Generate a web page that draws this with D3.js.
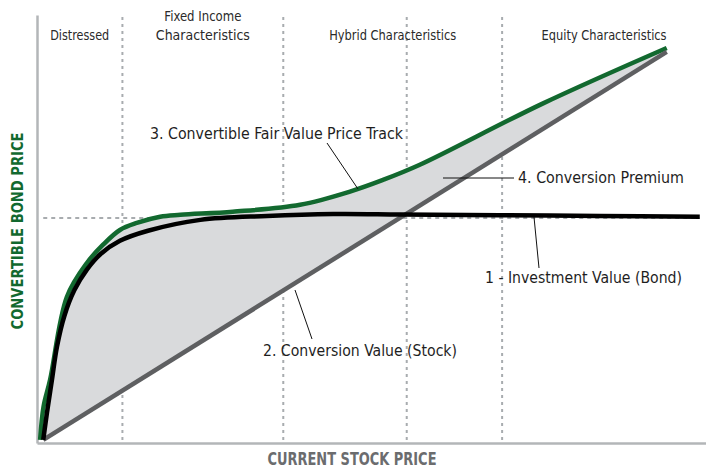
<!DOCTYPE html>
<html>
<head>
<meta charset="utf-8">
<script src="https://cdn.jsdelivr.net/npm/d3@7"></script>
<style>
  body { margin: 0; background: #fff; }
  text { font-family: "DejaVu Sans Condensed", "Liberation Sans Narrow", sans-serif; }
</style>
</head>
<body>
<svg></svg>
<script>
const width = 706;
const height = 470;

// datos (stock price vs bond price, arbitrary units 0-100)
const stockX = [0, 100];
const stockY = [0, 100];

const bondX = [0, 0.6, 1.4, 2.2, 3.4, 5.0, 7.0, 9.2, 12.3, 16.8, 25.2, 35.9, 46.5, 57.2, 73.2, 89.3, 105.3];
const bondY = [0, 7.0, 15.5, 24.0, 32.0, 38.6, 43.9, 47.9, 51.3, 53.9, 56.7, 57.7, 58.2, 58.1, 57.9, 57.7, 57.5];

const fairX = [-0.5, 0.05, 1.1, 3.8, 7.0, 9.6, 12.3, 15.0, 18.75, 22.0, 30.4, 41.2, 49.2, 54.5, 60.4, 80, 100];
const fairY = [0, 8.6, 15.5, 36.9, 45.6, 50.3, 54.1, 55.9, 57.5, 58.0, 58.8, 60.6, 64.0, 67.0, 70.9, 86.6, 101];

// zonas
const zoneBreaks = [12.7, 38.5, 73.6];
const crossX = 58.3;
const parLevel = 57.2;
const zoneLabels = [["Distressed"], ["Fixed Income", "Characteristics"], ["Hybrid Characteristics"], ["Equity Characteristics"]];
const zoneWidths = [[59], [77, 94], [127], [125]];

const svg = d3.select("svg").attr("width", width).attr("height", height);

const x = d3.scaleLinear().domain([-1, 106.3]).range([37, 706]);
const y = d3.scaleLinear().domain([-0.8, 109.5]).range([443, 15]);

const green = "#12692f";
const gridCol = "#a8acaf";

// rejilla
const vLines = zoneBreaks.concat([crossX]);
svg.append("g").selectAll("line").data(vLines).join("line")
  .attr("x1", d => x(d)).attr("x2", d => x(d))
  .attr("y1", y(109)).attr("y2", y(0))
  .attr("stroke", gridCol).attr("stroke-width", 2).attr("stroke-dasharray", "3,4");

svg.append("line")
  .attr("x1", x(0)).attr("x2", x(105.3))
  .attr("y1", y(parLevel)).attr("y2", y(parLevel))
  .attr("stroke", gridCol).attr("stroke-width", 2).attr("stroke-dasharray", "4,4");

// ejes
const axisX = svg.append("g").attr("transform", `translate(0,${y(-0.8)})`)
  .call(d3.axisBottom(x).tickValues([]).tickSizeOuter(0));
const axisY = svg.append("g").attr("transform", `translate(${x(-1)},0)`)
  .call(d3.axisLeft(y).tickValues([]).tickSizeOuter(0));
[axisX, axisY].forEach(a => a.select(".domain").attr("stroke", "#b3b6b8").attr("stroke-width", 2.5));

const fairPts = fairX.map((d, i) => [d, fairY[i]]);
const bondPts = bondX.map((d, i) => [d, bondY[i]]);
const stockPts = stockX.map((d, i) => [d, stockY[i]]);

const line = d3.line().x(d => x(d[0])).y(d => y(d[1])).curve(d3.curveCatmullRom.alpha(0.5));

// relleno prima
const fillPath = line(fairPts) + "L" + stockPts.slice().reverse().map(d => x(d[0]) + "," + y(d[1])).join("L") + "Z";
svg.append("path").attr("d", fillPath).attr("fill", "#d9dadc");

svg.append("path").attr("d", line(fairPts)).attr("fill", "none")
  .attr("stroke", green).attr("stroke-width", 4.5);
svg.append("path").attr("d", d3.line().x(d => x(d[0])).y(d => y(d[1]))(stockPts)).attr("fill", "none")
  .attr("stroke", "#5e5f61").attr("stroke-width", 4.5);
svg.append("path").attr("d", line(bondPts)).attr("fill", "none")
  .attr("stroke", "#000").attr("stroke-width", 4.5);

// etiquetas zonas
const bounds = [-1].concat(zoneBreaks).concat([106.3]);
zoneLabels.forEach((lines, i) => {
  const cx = (x(bounds[i]) + x(bounds[i + 1])) / 2;
  lines.forEach((s, j) => {
    svg.append("text").attr("text-anchor", "middle")
      .attr("font-size", 14.5).attr("fill", "#2a2a2a")
      .attr("x", cx).attr("y", 40 - (lines.length - 1 - j) * 19)
      .attr("textLength", zoneWidths[i][j]).attr("lengthAdjust", "spacingAndGlyphs")
      .text(s);
  });
});

// anotaciones
const notes = [
  { text: "3. Convertible Fair Value Price Track", tx: 150, ty: 139, w: 253, l: [[327, 143], [358, 189]] },
  { text: "4. Conversion Premium", tx: 518, ty: 183, w: 166, l: [[443, 178], [514, 178]] },
  { text: "1 - Investment Value (Bond)", tx: 485, ty: 283, w: 197, l: [[534, 217], [539, 268]] },
  { text: "2. Conversion Value (Stock)", tx: 263, ty: 356, w: 194, l: [[295, 290], [312, 339]] }
];
notes.forEach(n => {
  svg.append("line").attr("x1", n.l[0][0]).attr("y1", n.l[0][1])
    .attr("x2", n.l[1][0]).attr("y2", n.l[1][1])
    .attr("stroke", "#111").attr("stroke-width", 1);
  svg.append("text").attr("x", n.tx).attr("y", n.ty)
    .attr("font-size", 16).attr("fill", "#1e1e1e")
    .attr("textLength", n.w).attr("lengthAdjust", "spacingAndGlyphs")
    .text(n.text);
});

// titulos ejes
svg.append("text")
  .attr("transform", "rotate(-90)")
  .attr("x", -231).attr("y", 23)
  .attr("text-anchor", "middle").attr("font-size", 16.5).attr("font-weight", "bold")
  .attr("textLength", 197).attr("lengthAdjust", "spacingAndGlyphs")
  .attr("fill", green).text("CONVERTIBLE BOND PRICE");

svg.append("text")
  .attr("x", 352).attr("y", 465)
  .attr("text-anchor", "middle").attr("font-size", 17).attr("font-weight", "bold")
  .attr("textLength", 169).attr("lengthAdjust", "spacingAndGlyphs")
  .attr("fill", "#6b6c6e").text("CURRENT STOCK PRICE");
</script>
</body>
</html>
